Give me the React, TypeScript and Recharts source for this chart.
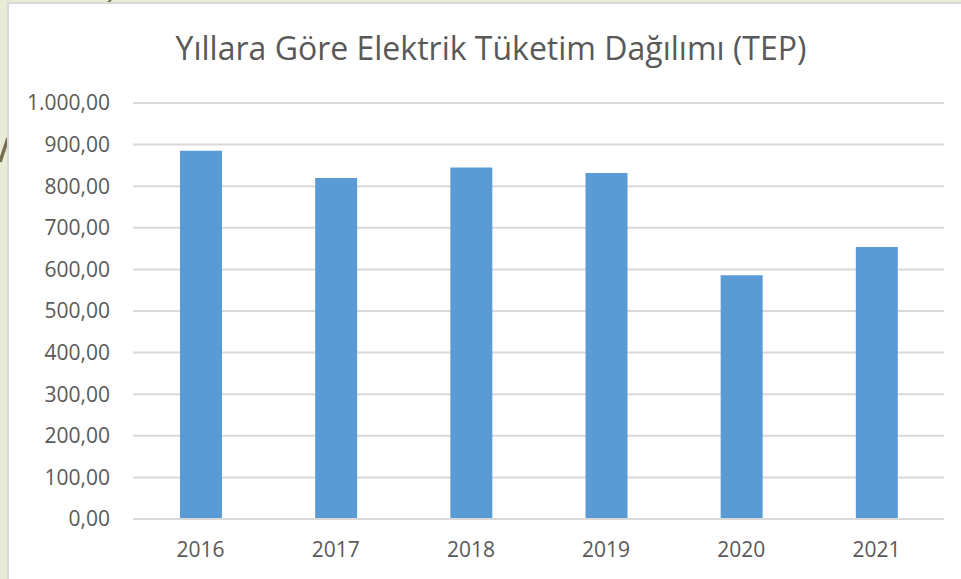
import React from 'react';
import { BarChart, Bar, XAxis, YAxis, CartesianGrid } from 'recharts';

// values (TEP)
const years = ['2016', '2017', '2018', '2019', '2020', '2021'];
const consumption = [885, 820, 845, 832, 586, 654];
const yTicks = [0, 100, 200, 300, 400, 500, 600, 700, 800, 900, 1000];
const title = 'Yıllara Göre Elektrik Tüketim Dağılımı (TEP)';

const data = years.map((year, i) => ({ year, value: consumption[i] }));

// Turkish number format: 1.000,00
const fmt = (v: number) => {
  const [int, dec] = v.toFixed(2).split('.');
  return int.replace(/\B(?=(\d{3})+(?!\d))/g, '.') + ',' + dec;
};

const FONT = '"Open Sans", sans-serif';
const TEXT = '#595959';

export default function App() {
  return (
    <div
      style={{
        position: 'absolute',
        left: 0,
        top: 0,
        width: 961,
        height: 579,
        overflow: 'hidden',
        background: '#e8ecd6',
        fontFamily: FONT,
      }}
    >
      {/* bits of the slide background curve */}
      <svg width={961} height={579} style={{ position: 'absolute', left: 0, top: 0 }}>
        <path d="M0 162 L8 138" stroke="#776e4e" strokeWidth={3.5} fill="none" />
        <path d="M106 4 L111 0" stroke="#776e4e" strokeWidth={2} fill="none" />
      </svg>
      <div
        style={{
          position: 'absolute',
          left: 7,
          top: 2,
          width: 970,
          height: 600,
          background: '#fff',
          border: '2px solid #d9d9d9',
        }}
      />
      <div
        style={{
          position: 'absolute',
          left: 0,
          top: 26,
          width: 982,
          textAlign: 'center',
          fontSize: 32,
          color: TEXT,
          whiteSpace: 'nowrap',
        }}
      >
        {title}
      </div>
      <div style={{ position: 'absolute', left: 8, top: 3 }}>
        <BarChart
          width={953}
          height={576}
          data={data}
          margin={{ top: 100, right: 17, bottom: 0, left: 0 }}
          barSize={42}
        >
          <CartesianGrid vertical={false} stroke="#d9d9d9" strokeWidth={2} />
          <XAxis
            dataKey="year"
            tickLine={false}
            tickSize={0}
            tickMargin={23}
            height={60}
            axisLine={{ stroke: '#d9d9d9', strokeWidth: 2 }}
            tick={{ fill: TEXT, fontSize: 21, fontFamily: FONT }}
          />
          <YAxis
            domain={[0, 1000]}
            ticks={yTicks}
            interval={0}
            width={125}
            axisLine={false}
            tickLine={false}
            tickSize={0}
            tickMargin={23}
            tickFormatter={fmt}
            tick={{ fill: TEXT, fontSize: 21, fontFamily: FONT }}
          />
          <Bar dataKey="value" fill="#5b9bd5" isAnimationActive={false} />
        </BarChart>
      </div>
    </div>
  );
}
